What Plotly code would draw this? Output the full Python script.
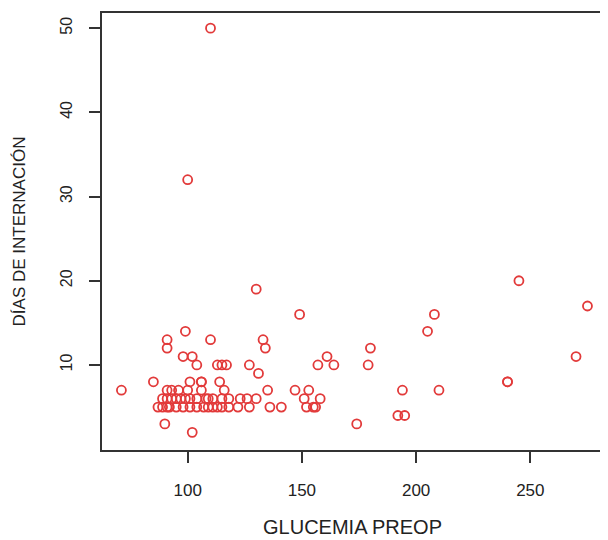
import plotly.graph_objects as go

# Data (glucemia preop vs. días de internación)
glucemia = [
    # y = 2..4
    102, 90, 174, 192, 195,
    # y = 5
    87, 89, 91, 92, 95, 98, 101, 104, 107, 109, 111, 113, 115, 118, 122, 127, 136, 141, 152, 155, 156,
    # y = 6
    89, 91, 93, 95, 97, 99, 101, 104, 108, 109, 111, 115, 118, 123, 126, 130, 151, 158,
    # y = 7
    71, 91, 93, 96, 100, 106, 116, 135, 147, 153, 194, 210,
    # y = 8
    85, 101, 106, 106, 114, 240, 240,
    # y = 9
    131,
    # y = 10
    104, 113, 115, 117, 127, 157, 164, 179,
    # y = 11
    98, 102, 161, 270,
    # y = 12
    91, 134, 180,
    # y = 13
    91, 110, 133,
    # y = 14
    99, 205,
    # y = 16, 17, 19, 20, 32, 50
    149, 208, 275, 130, 245, 100, 110,
]
dias = (
    [2, 3, 3, 4, 4]
    + [5] * 21
    + [6] * 18
    + [7] * 12
    + [8] * 7
    + [9]
    + [10] * 8
    + [11] * 4
    + [12] * 3
    + [13] * 3
    + [14] * 2
    + [16, 16, 17, 19, 20, 32, 50]
)

x_ticks = [100, 150, 200, 250]
y_ticks = [10, 20, 30, 40, 50]

FONT = "Liberation Sans, Arial, sans-serif"
INK = "#222222"

fig = go.Figure(
    go.Scatter(
        x=glucemia,
        y=dias,
        mode="markers",
        marker=dict(
            symbol="circle-open",
            size=9,
            color="rgb(226,58,58)",
            line=dict(width=1.8, color="rgb(226,58,58)"),
        ),
        hoverinfo="x+y",
    )
)

# The page body has an 8px default margin, so the figure is 8px smaller
fig.update_layout(
    width=600,
    height=532,
    margin=dict(l=94, r=3, t=5, b=90),
    paper_bgcolor="white",
    plot_bgcolor="white",
    showlegend=False,
    font=dict(family=FONT, size=16, color=INK),
)

fig.update_xaxes(
    range=[62.5, 281.8],
    tickmode="array",
    tickvals=x_ticks,
    ticktext=[str(v) for v in x_ticks],
    ticks="outside",
    ticklen=11,
    tickwidth=1.5,
    tickcolor="#333333",
    ticklabelstandoff=13,
    showline=True,
    linecolor="#333333",
    linewidth=1.5,
    mirror=True,
    showgrid=False,
    zeroline=False,
    tickfont=dict(family=FONT, size=17, color=INK),
    title=dict(text="GLUCEMIA PREOP", font=dict(family=FONT, size=20, color=INK), standoff=21),
)

fig.update_yaxes(
    range=[-0.1, 51.8],
    tickmode="array",
    tickvals=y_ticks,
    ticktext=[str(v) for v in y_ticks],
    tickangle=-90,
    ticks="outside",
    ticklen=11,
    tickwidth=1.5,
    tickcolor="#333333",
    ticklabelstandoff=11,
    showline=True,
    linecolor="#333333",
    linewidth=1.5,
    mirror=True,
    showgrid=False,
    zeroline=False,
    tickfont=dict(family=FONT, size=16, color=INK),
    title=dict(text="DÍAS DE INTERNACIÓN", font=dict(family=FONT, size=17, color=INK), standoff=28),
)

fig.write_html("out.html")
